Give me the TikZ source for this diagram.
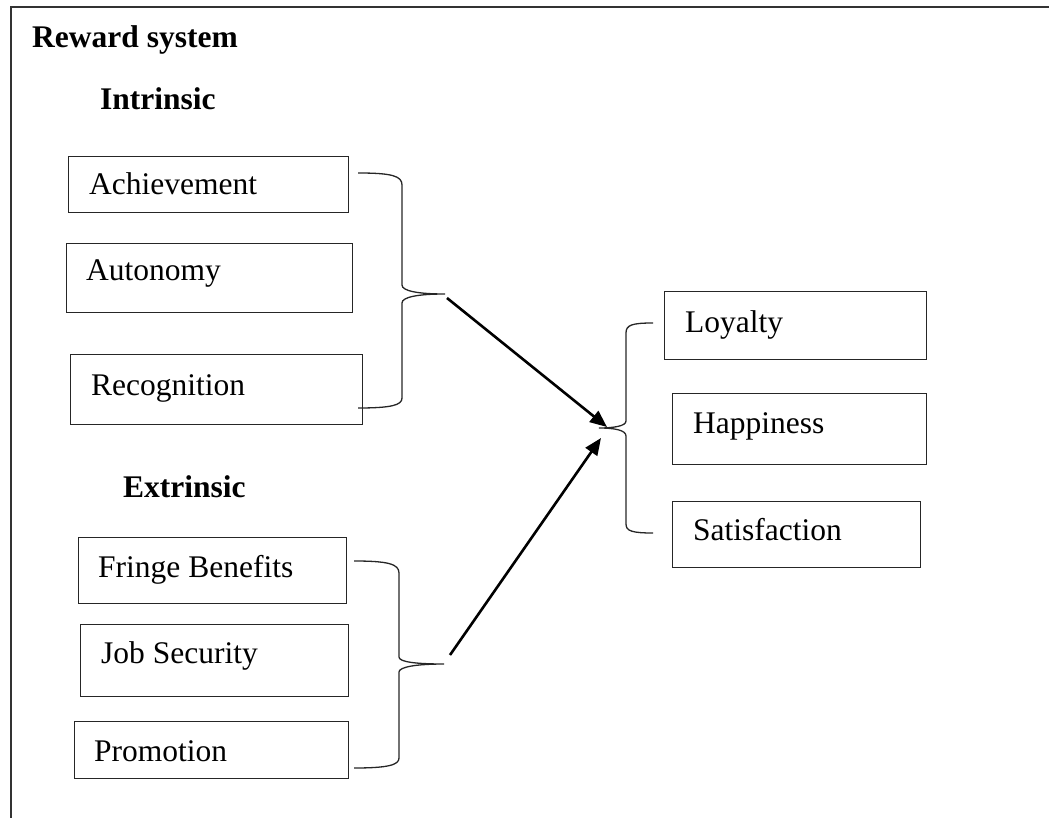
\documentclass[tikz,border=0pt]{standalone}
\usepackage{fontspec}
\setmainfont{Liberation Serif}
\usetikzlibrary{arrows.meta}
\tikzset{
  box/.style={draw=black!85, line width=1.3pt, anchor=north west, inner sep=0pt},
  lbl/.style={anchor=base west, inner sep=0pt, font=\fontsize{31.5}{36}\selectfont},
  head/.style={anchor=base west, inner sep=0pt, font=\fontsize{31.5}{36}\selectfont\bfseries},
  brace/.style={draw=black!85, line width=1.3pt},
  conn/.style={draw=black, line width=2.6pt, -{Triangle[length=17pt,width=14pt]}},
  frame/.style={draw=black!80, line width=1.6pt}
}
\begin{document}
\begin{tikzpicture}[x=1pt,y=-1pt]
\useasboundingbox (0,0) rectangle (1049,818);
% frame
\coordinate (fbl) at (11,818);
\coordinate (ftl) at (11,7);
\coordinate (ftr) at (1049,7);
\draw[frame] (fbl) -- (ftl) -- (ftr);
% headings
\node[head] (title) at (32,48) {Reward system};
\node[head] (intr) at (100,110) {Intrinsic};
\node[head] (extr) at (123,497) {Extrinsic};
% intrinsic boxes
\node[box, minimum width=280pt, minimum height=56pt] (ach) at (68,156) {};
\node[lbl] (achT) at (89,195) {Achievement};
\node[box, minimum width=286pt, minimum height=69pt] (aut) at (66,243) {};
\node[lbl] (autT) at (86,280) {Autonomy};
\node[box, minimum width=292pt, minimum height=70pt] (rec) at (70,354) {};
\node[lbl] (recT) at (91,395) {Recognition};
% extrinsic boxes
\node[box, minimum width=268pt, minimum height=66pt] (fri) at (78,537) {};
\node[lbl] (friT) at (98,577) {Fringe Benefits};
\node[box, minimum width=268pt, minimum height=72pt] (job) at (80,624) {};
\node[lbl] (jobT) at (101,663) {Job Security};
\node[box, minimum width=274pt, minimum height=57pt] (pro) at (74,721) {};
\node[lbl] (proT) at (94,761) {Promotion};
% outcome boxes
\node[box, minimum width=262pt, minimum height=68pt] (loy) at (664,291) {};
\node[lbl] (loyT) at (685,332) {Loyalty};
\node[box, minimum width=254pt, minimum height=71pt] (hap) at (672,393) {};
\node[lbl] (hapT) at (693,433) {Happiness};
\node[box, minimum width=248pt, minimum height=66pt] (sat) at (672,501) {};
\node[lbl] (satT) at (693,540) {Satisfaction};
% brace coordinates
\coordinate (b1t) at (358,173);
\coordinate (b1m) at (445,294);
\coordinate (b1b) at (358,408);
\coordinate (b2t) at (354,561);
\coordinate (b2m) at (444,664);
\coordinate (b2b) at (354,768);
\coordinate (b3t) at (653,323);
\coordinate (b3m) at (599,428);
\coordinate (b3b) at (653,533);
% upper-left brace
\draw[brace] (b1t) .. controls (392,173) and (402,176) .. (402,185) -- (402,285)
  .. controls (402,291) and (418,294) .. (b1m)
  .. controls (418,294) and (402,297) .. (402,303) -- (402,398)
  .. controls (402,405) and (392,408) .. (b1b);
% lower-left brace
\draw[brace] (b2t) .. controls (388,561) and (399,564) .. (399,573) -- (399,657)
  .. controls (399,662) and (416,664) .. (b2m)
  .. controls (416,664) and (399,667) .. (399,672) -- (399,758)
  .. controls (399,765) and (388,768) .. (b2b);
% right brace
\draw[brace] (b3t) .. controls (632,323) and (626,325) .. (626,333) -- (626,421)
  .. controls (626,426) and (614,428) .. (b3m)
  .. controls (614,428) and (626,430) .. (626,436) -- (626,524)
  .. controls (626,531) and (632,533) .. (b3b);
% arrows
\coordinate (a1s) at (447,298);
\coordinate (a1e) at (607,427);
\coordinate (a2s) at (450,655);
\coordinate (a2e) at (601,438);
\draw[conn] (a1s) -- (a1e);
\draw[conn] (a2s) -- (a2e);
\end{tikzpicture}
\end{document}
